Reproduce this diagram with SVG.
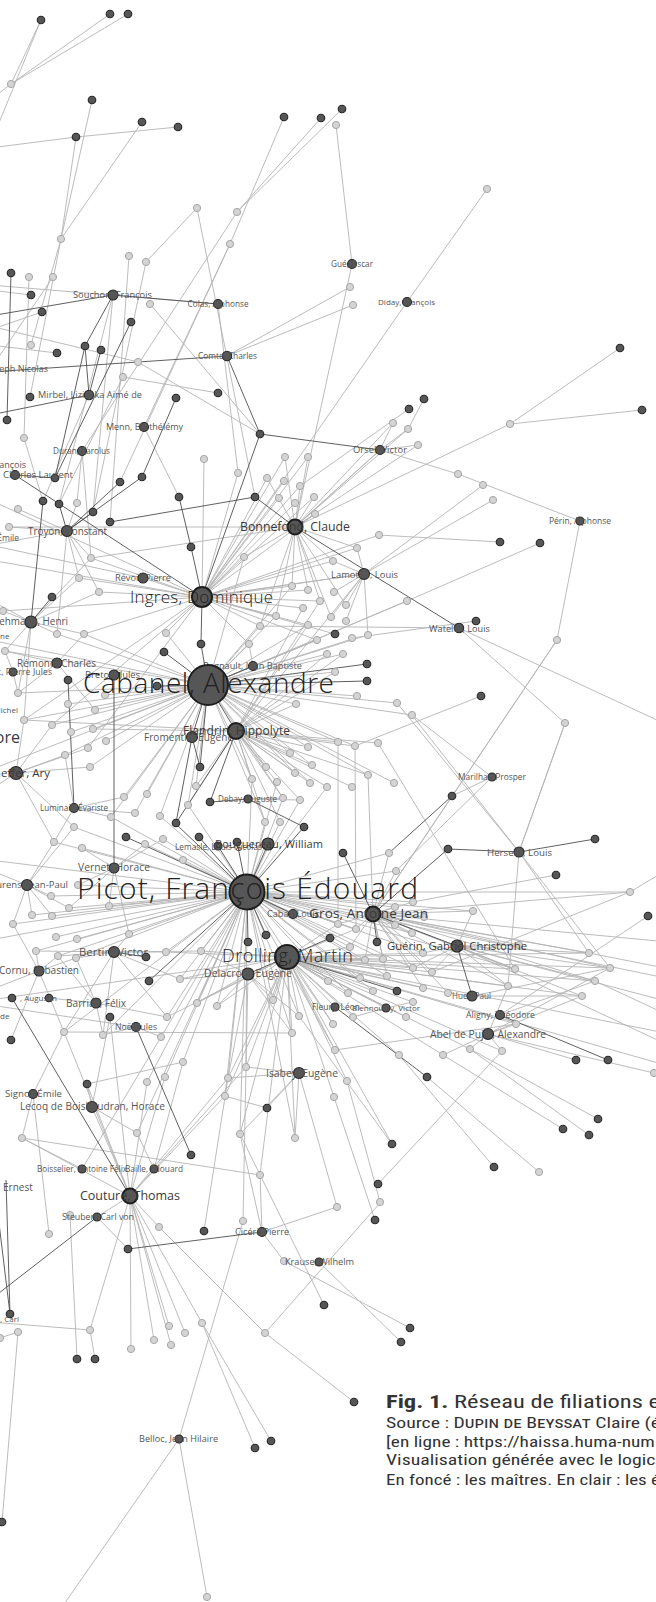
<svg xmlns="http://www.w3.org/2000/svg" width="656" height="1602" viewBox="0 0 656 1602">
<style>
.e{fill:none;stroke:#b4b4b4;stroke-width:0.9}
.k{fill:none;stroke:#4e4e4e;stroke-width:0.9}
.l{fill:#d4d4d4;stroke:#a6a6a6;stroke-width:1}
.d{fill:#565656;stroke:#262626;stroke-width:1.1}
.h{fill:#565656;stroke:#1e1e1e;stroke-width:2}
text{font-family:"Open Sans","Noto Sans","DejaVu Sans",sans-serif;text-anchor:middle;fill:#555}
.t2{fill:#3a3a3a}
.t1{fill:#222;font-weight:300}
.cap{font-family:"Liberation Sans Narrow","Roboto Condensed","Liberation Sans","DejaVu Sans Condensed",sans-serif;text-anchor:start;fill:#333}
</style>
<rect width="656" height="1602" fill="#fff"/>
<g id="connectors">
<path class="e" d="M285 457L202 597L308 457M238 473L202 597L267 478M284 481L202 597L300 486M279 498L202 597L314 497M295 503L202 597L315 514M244 557L202 597L292 586M308 590L202 597L320 601M303 608L202 597L276 616M260 626L202 597L308 625M357 548L202 597L333 561M143 578L202 597L99 592M79 578L202 597L52 725M24 720L202 597L88 748M166 633L202 597L84 634M204 459L202 597L317 640M249 644L202 597L3 611M91 558L202 597L364 574M-10 500L202 597L-10 560"/>
<path class="e" d="M393 423L295 527L408 429M418 445L295 527L380 450M285 457L295 527L308 457M267 478L295 527L300 486M314 497L295 527L315 514M244 557L295 527L292 586M308 590L295 527L320 601M331 617L295 527L276 616M91 558L295 527L9 527M333 561L295 527L357 548M346 605L295 527L260 626M352 264L295 527L510 424"/>
<path class="e" d="M308 747L236 731L290 753M266 767L236 731L312 765M295 773L236 731L277 782M252 779L236 731L310 783M327 787L236 731L283 798M300 800L236 731L296 704M327 654L236 731L343 654M335 672L236 731L338 742M355 746L236 731L378 743M265 822L236 731L280 822M368 775L236 731L352 787M320 601L236 731L303 608M308 625L236 731L196 786M188 805L236 731L93 729M24 720L236 731L364 574"/>
<path class="e" d="M249 644L208 685L317 640M327 654L208 685L343 654M352 639L208 685L368 635M296 704L208 685L357 696M335 672L208 685L397 703M412 715L208 685L308 747M290 753L208 685L266 767M312 765L208 685L295 773M252 779L208 685L310 783M283 798L208 685L265 822M196 786L208 685L188 805M147 794L208 685L124 797M160 816L208 685L135 813M111 817L208 685L106 741M93 729L208 685L71 732M52 725L208 685L24 720M18 693L208 685L68 704M95 710L208 685L105 695M167 634L208 685L84 634M57 634L208 685L5 651M276 616L208 685L260 626M308 625L208 685L244 557M65 755L208 685L90 767M407 601L208 685L338 742M355 746L208 685L368 775M394 783L208 685L-10 640M-10 770L208 685L292 586"/>
<path class="e" d="M389 853L247 892L396 871M395 907L247 892L413 902M424 917L247 892L338 924M356 929L247 892L395 925M412 933L247 892L350 947M365 960L247 892L383 959M423 953L247 892L413 968M387 976L247 892L360 978M328 981L247 892L373 991M348 993L247 892L273 1000M217 1006L247 892L197 1003M167 1017L247 892L180 979M201 951L247 892L166 952M129 934L247 892L109 906M78 885L247 892L69 908M51 896L247 892L52 916M32 915L247 892L13 924M56 937L247 892L77 939M36 951L247 892L58 956M76 958L247 892L145 844M163 839L247 892L183 860M82 848L247 892L54 842M74 827L247 892L630 892M589 953L247 892L515 969M292 1033L247 892L299 1016M246 1067L247 892L228 1078M225 1096L247 892L240 1134M295 1138L247 892L183 1062M165 1077L247 892L147 1082M137 1133L247 892L161 1037M103 1035L247 892L64 1032M265 822L247 892L280 822M283 798L247 892L300 800M327 787L247 892L252 779M277 782L247 892L160 816M188 805L247 892L111 817M335 1050L247 892L333 1024M-10 860L247 892L-10 940M700 985L247 892L473 911"/>
<path class="e" d="M338 924L287 957L356 929M350 947L287 957L365 960M383 959L287 957L423 953M413 968L287 957L432 972M387 976L287 957L360 978M328 981L287 957L423 988M373 991L287 957L348 993M448 993L287 957L413 1002M406 1017L287 957L353 1017M515 969L287 957L589 953M610 968L287 957L595 981M582 996L287 957L508 986M273 1000L287 957L292 1033M299 1016L287 957L246 1067M228 1078L287 957L225 1096M240 1134L287 957L295 1138M260 1175L287 957L333 1024M335 1050L287 957L347 1081M334 1097L287 957L217 1006M197 1003L287 957L167 1017M201 951L287 957L166 952M180 979L287 957L470 1049M443 1055L287 957L399 1055M502 1051L287 957L516 1024M700 1040L287 957L700 1075M-10 1000L287 957L392 1144M335 1007L287 957L386 1008"/>
<path class="e" d="M389 853L373 914L396 871M413 902L373 914L424 917M395 907L373 914L395 925M412 933L373 914L473 911M338 924L373 914L356 929M350 947L373 914L365 960M383 959L373 914L423 953M432 972L373 914L387 976M423 988L373 914L589 953M610 968L373 914L595 981M630 892L373 914L519 945M515 969L373 914L582 996M413 968L373 914L448 993M508 986L373 914L700 945M368 775L373 914L557 640"/>
<path class="e" d="M473 911L457 946L519 945M515 969L457 946L589 953M610 968L457 946L423 953M432 972L457 946L595 981M508 986L457 946L413 968M700 1060L457 946L700 1010M565 723L519 852L412 715M397 703L519 852L508 986M589 953L519 852L610 968M516 1024L488 1034L502 1051M470 1049L488 1034L654 1073M443 1055L488 1034L582 996M610 968L488 1034L508 986M576 1060L488 1034M648 916L500 1015L516 1024M595 981L500 1015M582 996L472 996L610 968M448 993L472 996M413 1002L386 1008L353 1017"/>
<path class="e" d="M273 1000L248 974L217 1006M197 1003L248 974L292 1033M299 1016L248 974L246 1067M228 1078L248 974L201 951M180 979L248 974M166 952L114 952L201 951M129 934L114 952L76 958M58 956L114 952L36 951M180 979L114 952L167 1017M103 1035L114 952L64 1032M36 951L39 971L13 924M58 956L39 971L76 958M64 1032L39 971L-10 990M109 906L114 868L129 934M78 885L114 868L145 844M163 839L114 868L82 848M69 908L114 868M51 896L27 885L32 915M13 924L27 885L54 842M74 827L27 885L69 908M52 916L27 885L-10 870M57 634L31 622L84 634M3 611L31 622L5 651M18 693L31 622L24 720M99 592L31 622L79 578M91 558L31 622L-10 600M77 503L67 531L18 509M9 527L67 531L91 558M79 578L67 531L99 592M57 634L67 531L-10 545M82 451L77 503M82 451L91 558M5 651L57 663L18 693M84 634L57 663L95 710M18 693L13 672L5 651M65 755L16 773L90 767M24 720L16 773L52 725M88 748L16 773L54 842M74 827L16 773L-10 790M111 817L74 808L135 813M124 797L74 808L65 755M54 842L74 808M283 798L248 799L300 800M412 715L492 777L396 871M492 777L452 796M317 640L253 666L249 644M143 578L-10 545"/>
<path class="e" d="M76 958L96 1003L58 956M167 1017L96 1003L103 1035M49 998L96 1003M161 1037L136 1027L103 1035M-10 1005L136 1027M240 1134L299 1073L295 1138M337 1207L299 1073L228 1078M246 1067L299 1073L267 1108M22 1138L33 1094L49 1234M64 1032L33 1094M87 1084L92 1107L137 1133M110 1017L92 1107M161 1037L82 1169L22 1138M183 1062L154 1169L137 1133M87 1084L130 1196L92 1107M64 1032L130 1196L110 1017M246 1067L130 1196L228 1078M225 1096L130 1196L169 1326M185 1333L130 1196L154 1340M171 1345L130 1196L202 1323M131 1349L130 1196L90 1330M159 1227L130 1196L97 1217M22 1138L130 1196L147 1082M165 1077L130 1196M337 1207L262 1232L240 1134M260 1175L262 1232L284 1261"/>
<path class="e" d="M11 84L41 20M11 84L110 14M11 84L128 14M41 20L-8 140M11 84L-10 100M-10 148L76 137L178 127M92 100L61 239L76 137M142 122L61 239L31 345M61 239L30 397M321 118L237 212L342 109M284 117L230 244L120 482M237 212L82 451M197 208L146 262M197 208L255 497M336 125L352 264M487 189L407 302L202 597M129 256L110 522M146 262L93 512M350 287L227 356L353 305M-10 285L218 304L238 473M150 304L260 434M-10 326L138 362L260 434M123 377L218 393M123 377L59 504M29 277L24 438L43 501M53 277L-10 370M42 312L-10 330M113 295L59 504M113 295L93 512M89 395L43 501M144 427L230 244M144 427L179 497M620 348L510 424L642 410M424 399L408 429M409 409L300 486M380 450L458 474L580 521M483 485L364 574L493 500M379 535L500 542M379 535L202 597M540 543L407 601L208 685M364 574L357 548M364 574L333 561M364 574L334 592M364 574L346 605M364 574L368 635M364 574L331 617M364 574L202 597M346 621L364 574M580 521L557 640L373 914M260 626L459 628L565 723L519 852M459 628L700 740M380 450L393 423M380 450L408 429M380 450L418 445M380 450L295 527M481 696L355 746M378 743L515 969M338 742L338 924M355 746L356 929M630 892L700 850M630 892L432 972M556 875L413 902M589 953L700 975M595 981L700 1030"/>
<path class="e" d="M427 1077L539 1172M399 1055L494 1167M443 1055L563 1129M470 1049L589 1135M470 1049L598 1119M502 1051L378 1184M347 1081L380 1202M392 1144L299 1016M335 1050L516 1024M334 1097L375 1220M64 1032L292 1033M87 1084L183 1062M22 1138L260 1175M225 1096L267 1108M97 1217L128 1249M70 1215L77 1359M95 1359L90 1330L-10 1322M243 1221L179 1439L207 1597M179 1439L60 1610M243 1221L246 1067M159 1227L265 1333L354 1402M265 1333L380 1203M255 1448L202 1323L271 1441M284 1261L410 1328M319 1262L401 1342M324 1305L240 1134M2 1522L18 1332M0 1338L18 1332M476 621L352 638M335 634L202 597M11 1040L39 971M204 1231L228 1078M31 295L-10 290M57 353L-10 345"/>
<path class="k" d="M-10 316L113 295L218 304M-10 372L227 356L260 434L380 450M260 434L202 597M11 273L7 420M-10 415L89 395L101 350M89 395L85 346L113 295M85 346L55 478M131 322L55 478M176 398L142 477M179 497L191 547L202 597M110 522L255 497L295 527L459 628M43 501L31 622L52 597M15 475L55 478M15 475L202 597M67 531L142 477M67 531L93 512M67 531L120 482M59 504L67 531M114 675L114 868M68 680L74 808M367 664L208 685L367 681M164 652L208 685L157 686M201 644L208 685L200 767M253 666L208 685L192 737M208 685L236 731L210 802L248 799L304 827M236 731L176 823M192 737L200 767M192 737L176 823M201 644L202 597M199 837L247 892L237 842M176 824L247 892L126 837M266 935L247 892L248 942M304 827L247 892L293 914M268 844L247 892L218 846M343 853L373 914L448 849L519 852L595 839M377 942L373 914L457 946L472 996M330 938L287 957L397 991M248 974L287 957M146 957L114 952M149 981L247 892M335 1007L427 1077M500 1015L608 1060M12 998L130 1196M136 1027L191 1155M128 1249L262 1232M97 1217L-10 1300M10 1314L-5 1190M10 1314L6 1180M452 796L389 853"/>
</g>
<g id="students">
<g id="s1"><circle class="l" cx="11" cy="84" r="3.6"/></g><g id="s2"><circle class="l" cx="61" cy="239" r="3.6"/></g><g id="s3"><circle class="l" cx="237" cy="212" r="3.6"/></g><g id="s4"><circle class="l" cx="230" cy="244" r="3.6"/></g><g id="s5"><circle class="l" cx="197" cy="208" r="3.6"/></g><g id="s6"><circle class="l" cx="129" cy="256" r="3.6"/></g><g id="s7"><circle class="l" cx="146" cy="262" r="3.6"/></g><g id="s8"><circle class="l" cx="336" cy="125" r="3.6"/></g><g id="s9"><circle class="l" cx="487" cy="189" r="3.6"/></g>
<g id="s10"><circle class="l" cx="29" cy="277" r="3.6"/></g><g id="s11"><circle class="l" cx="53" cy="277" r="3.6"/></g><g id="s12"><circle class="l" cx="150" cy="304" r="3.6"/></g><g id="s13"><circle class="l" cx="31" cy="345" r="3.6"/></g><g id="s14"><circle class="l" cx="138" cy="362" r="3.6"/></g><g id="s15"><circle class="l" cx="123" cy="377" r="3.6"/></g><g id="s16"><circle class="l" cx="24" cy="438" r="3.6"/></g>
<g id="s17"><circle class="l" cx="350" cy="287" r="3.6"/></g><g id="s18"><circle class="l" cx="353" cy="305" r="3.6"/></g><g id="s19"><circle class="l" cx="510" cy="424" r="3.6"/></g><g id="s20"><circle class="l" cx="393" cy="423" r="3.6"/></g><g id="s21"><circle class="l" cx="408" cy="429" r="3.6"/></g><g id="s22"><circle class="l" cx="418" cy="445" r="3.6"/></g>
<g id="s23"><circle class="l" cx="18" cy="509" r="3.6"/></g><g id="s24"><circle class="l" cx="9" cy="527" r="3.6"/></g><g id="s25"><circle class="l" cx="204" cy="459" r="3.6"/></g><g id="s26"><circle class="l" cx="285" cy="457" r="3.6"/></g><g id="s27"><circle class="l" cx="308" cy="457" r="3.6"/></g><g id="s28"><circle class="l" cx="238" cy="473" r="3.6"/></g><g id="s29"><circle class="l" cx="267" cy="478" r="3.6"/></g><g id="s30"><circle class="l" cx="284" cy="481" r="3.6"/></g><g id="s31"><circle class="l" cx="300" cy="486" r="3.6"/></g><g id="s32"><circle class="l" cx="279" cy="498" r="3.6"/></g><g id="s33"><circle class="l" cx="314" cy="497" r="3.6"/></g><g id="s34"><circle class="l" cx="295" cy="503" r="3.6"/></g><g id="s35"><circle class="l" cx="315" cy="514" r="3.6"/></g><g id="s36"><circle class="l" cx="77" cy="503" r="3.6"/></g><g id="s37"><circle class="l" cx="244" cy="557" r="3.6"/></g><g id="s38"><circle class="l" cx="91" cy="558" r="3.6"/></g><g id="s39"><circle class="l" cx="79" cy="578" r="3.6"/></g><g id="s40"><circle class="l" cx="99" cy="592" r="3.6"/></g><g id="s41"><circle class="l" cx="292" cy="586" r="3.6"/></g><g id="s42"><circle class="l" cx="308" cy="590" r="3.6"/></g><g id="s43"><circle class="l" cx="320" cy="601" r="3.6"/></g><g id="s44"><circle class="l" cx="303" cy="608" r="3.6"/></g><g id="s45"><circle class="l" cx="276" cy="616" r="3.6"/></g><g id="s46"><circle class="l" cx="260" cy="626" r="3.6"/></g><g id="s47"><circle class="l" cx="308" cy="625" r="3.6"/></g><g id="s48"><circle class="l" cx="3" cy="611" r="3.6"/></g><g id="s49"><circle class="l" cx="57" cy="634" r="3.6"/></g><g id="s50"><circle class="l" cx="84" cy="634" r="3.6"/></g><g id="s51"><circle class="l" cx="166" cy="633" r="3.6"/></g>
<g id="s52"><circle class="l" cx="458" cy="474" r="3.6"/></g><g id="s53"><circle class="l" cx="483" cy="485" r="3.6"/></g><g id="s54"><circle class="l" cx="493" cy="500" r="3.6"/></g><g id="s55"><circle class="l" cx="379" cy="535" r="3.6"/></g><g id="s56"><circle class="l" cx="357" cy="548" r="3.6"/></g><g id="s57"><circle class="l" cx="333" cy="561" r="3.6"/></g><g id="s58"><circle class="l" cx="334" cy="592" r="3.6"/></g><g id="s59"><circle class="l" cx="346" cy="605" r="3.6"/></g><g id="s60"><circle class="l" cx="407" cy="601" r="3.6"/></g><g id="s61"><circle class="l" cx="331" cy="617" r="3.6"/></g><g id="s62"><circle class="l" cx="346" cy="621" r="3.6"/></g><g id="s63"><circle class="l" cx="368" cy="635" r="3.6"/></g><g id="s64"><circle class="l" cx="352" cy="638" r="3.6"/></g><g id="s65"><circle class="l" cx="557" cy="640" r="3.6"/></g>
<g id="s66"><circle class="l" cx="5" cy="651" r="3.6"/></g><g id="s67"><circle class="l" cx="249" cy="644" r="3.6"/></g><g id="s68"><circle class="l" cx="317" cy="640" r="3.6"/></g><g id="s69"><circle class="l" cx="327" cy="654" r="3.6"/></g><g id="s70"><circle class="l" cx="18" cy="693" r="3.6"/></g><g id="s71"><circle class="l" cx="68" cy="704" r="3.6"/></g><g id="s72"><circle class="l" cx="95" cy="710" r="3.6"/></g><g id="s73"><circle class="l" cx="105" cy="695" r="3.6"/></g><g id="s74"><circle class="l" cx="24" cy="720" r="3.6"/></g><g id="s75"><circle class="l" cx="52" cy="725" r="3.6"/></g><g id="s76"><circle class="l" cx="71" cy="732" r="3.6"/></g><g id="s77"><circle class="l" cx="93" cy="729" r="3.6"/></g><g id="s78"><circle class="l" cx="106" cy="741" r="3.6"/></g><g id="s79"><circle class="l" cx="88" cy="748" r="3.6"/></g><g id="s80"><circle class="l" cx="65" cy="755" r="3.6"/></g><g id="s81"><circle class="l" cx="90" cy="767" r="3.6"/></g><g id="s82"><circle class="l" cx="296" cy="704" r="3.6"/></g><g id="s83"><circle class="l" cx="308" cy="747" r="3.6"/></g><g id="s84"><circle class="l" cx="290" cy="753" r="3.6"/></g><g id="s85"><circle class="l" cx="266" cy="767" r="3.6"/></g><g id="s86"><circle class="l" cx="312" cy="765" r="3.6"/></g><g id="s87"><circle class="l" cx="295" cy="773" r="3.6"/></g><g id="s88"><circle class="l" cx="277" cy="782" r="3.6"/></g><g id="s89"><circle class="l" cx="252" cy="779" r="3.6"/></g><g id="s90"><circle class="l" cx="310" cy="783" r="3.6"/></g><g id="s91"><circle class="l" cx="327" cy="787" r="3.6"/></g><g id="s92"><circle class="l" cx="196" cy="786" r="3.6"/></g><g id="s93"><circle class="l" cx="147" cy="794" r="3.6"/></g><g id="s94"><circle class="l" cx="124" cy="797" r="3.6"/></g><g id="s95"><circle class="l" cx="188" cy="805" r="3.6"/></g><g id="s96"><circle class="l" cx="160" cy="816" r="3.6"/></g><g id="s97"><circle class="l" cx="135" cy="813" r="3.6"/></g><g id="s98"><circle class="l" cx="111" cy="817" r="3.6"/></g><g id="s99"><circle class="l" cx="283" cy="798" r="3.6"/></g><g id="s100"><circle class="l" cx="300" cy="800" r="3.6"/></g><g id="s101"><circle class="l" cx="265" cy="822" r="3.6"/></g><g id="s102"><circle class="l" cx="280" cy="822" r="3.6"/></g>
<g id="s103"><circle class="l" cx="343" cy="654" r="3.6"/></g><g id="s104"><circle class="l" cx="335" cy="672" r="3.6"/></g><g id="s105"><circle class="l" cx="357" cy="696" r="3.6"/></g><g id="s106"><circle class="l" cx="397" cy="703" r="3.6"/></g><g id="s107"><circle class="l" cx="412" cy="715" r="3.6"/></g><g id="s108"><circle class="l" cx="565" cy="723" r="3.6"/></g><g id="s109"><circle class="l" cx="338" cy="742" r="3.6"/></g><g id="s110"><circle class="l" cx="355" cy="746" r="3.6"/></g><g id="s111"><circle class="l" cx="378" cy="743" r="3.6"/></g><g id="s112"><circle class="l" cx="368" cy="775" r="3.6"/></g><g id="s113"><circle class="l" cx="352" cy="787" r="3.6"/></g><g id="s114"><circle class="l" cx="394" cy="783" r="3.6"/></g>
<g id="s115"><circle class="l" cx="74" cy="827" r="3.6"/></g><g id="s116"><circle class="l" cx="54" cy="842" r="3.6"/></g><g id="s117"><circle class="l" cx="82" cy="848" r="3.6"/></g><g id="s118"><circle class="l" cx="145" cy="844" r="3.6"/></g><g id="s119"><circle class="l" cx="163" cy="839" r="3.6"/></g><g id="s120"><circle class="l" cx="183" cy="860" r="3.6"/></g><g id="s121"><circle class="l" cx="51" cy="896" r="3.6"/></g><g id="s122"><circle class="l" cx="32" cy="915" r="3.6"/></g><g id="s123"><circle class="l" cx="13" cy="924" r="3.6"/></g><g id="s124"><circle class="l" cx="69" cy="908" r="3.6"/></g><g id="s125"><circle class="l" cx="52" cy="916" r="3.6"/></g><g id="s126"><circle class="l" cx="109" cy="906" r="3.6"/></g><g id="s127"><circle class="l" cx="78" cy="885" r="3.6"/></g><g id="s128"><circle class="l" cx="56" cy="937" r="3.6"/></g><g id="s129"><circle class="l" cx="77" cy="939" r="3.6"/></g><g id="s130"><circle class="l" cx="129" cy="934" r="3.6"/></g><g id="s131"><circle class="l" cx="36" cy="951" r="3.6"/></g><g id="s132"><circle class="l" cx="58" cy="956" r="3.6"/></g><g id="s133"><circle class="l" cx="76" cy="958" r="3.6"/></g><g id="s134"><circle class="l" cx="166" cy="952" r="3.6"/></g><g id="s135"><circle class="l" cx="201" cy="951" r="3.6"/></g><g id="s136"><circle class="l" cx="180" cy="979" r="3.6"/></g><g id="s137"><circle class="l" cx="273" cy="1000" r="3.6"/></g><g id="s138"><circle class="l" cx="217" cy="1006" r="3.6"/></g><g id="s139"><circle class="l" cx="197" cy="1003" r="3.6"/></g><g id="s140"><circle class="l" cx="167" cy="1017" r="3.6"/></g>
<g id="s141"><circle class="l" cx="389" cy="853" r="3.6"/></g><g id="s142"><circle class="l" cx="396" cy="871" r="3.6"/></g><g id="s143"><circle class="l" cx="630" cy="892" r="3.6"/></g><g id="s144"><circle class="l" cx="473" cy="911" r="3.6"/></g><g id="s145"><circle class="l" cx="413" cy="902" r="3.6"/></g><g id="s146"><circle class="l" cx="424" cy="917" r="3.6"/></g><g id="s147"><circle class="l" cx="395" cy="907" r="3.6"/></g><g id="s148"><circle class="l" cx="338" cy="924" r="3.6"/></g><g id="s149"><circle class="l" cx="356" cy="929" r="3.6"/></g><g id="s150"><circle class="l" cx="395" cy="925" r="3.6"/></g><g id="s151"><circle class="l" cx="412" cy="933" r="3.6"/></g><g id="s152"><circle class="l" cx="350" cy="947" r="3.6"/></g><g id="s153"><circle class="l" cx="365" cy="960" r="3.6"/></g><g id="s154"><circle class="l" cx="383" cy="959" r="3.6"/></g><g id="s155"><circle class="l" cx="423" cy="953" r="3.6"/></g><g id="s156"><circle class="l" cx="413" cy="968" r="3.6"/></g><g id="s157"><circle class="l" cx="432" cy="972" r="3.6"/></g><g id="s158"><circle class="l" cx="387" cy="976" r="3.6"/></g><g id="s159"><circle class="l" cx="360" cy="978" r="3.6"/></g><g id="s160"><circle class="l" cx="328" cy="981" r="3.6"/></g><g id="s161"><circle class="l" cx="515" cy="969" r="3.6"/></g><g id="s162"><circle class="l" cx="589" cy="953" r="3.6"/></g><g id="s163"><circle class="l" cx="610" cy="968" r="3.6"/></g><g id="s164"><circle class="l" cx="595" cy="981" r="3.6"/></g><g id="s165"><circle class="l" cx="582" cy="996" r="3.6"/></g><g id="s166"><circle class="l" cx="508" cy="986" r="3.6"/></g><g id="s167"><circle class="l" cx="423" cy="988" r="3.6"/></g><g id="s168"><circle class="l" cx="373" cy="991" r="3.6"/></g><g id="s169"><circle class="l" cx="348" cy="993" r="3.6"/></g><g id="s170"><circle class="l" cx="448" cy="993" r="3.6"/></g><g id="s171"><circle class="l" cx="519" cy="945" r="3.6"/></g><g id="s172"><circle class="l" cx="413" cy="1002" r="3.6"/></g><g id="s173"><circle class="l" cx="406" cy="1017" r="3.6"/></g><g id="s174"><circle class="l" cx="353" cy="1017" r="3.6"/></g>
<g id="s175"><circle class="l" cx="64" cy="1032" r="3.6"/></g><g id="s176"><circle class="l" cx="103" cy="1035" r="3.6"/></g><g id="s177"><circle class="l" cx="161" cy="1037" r="3.6"/></g><g id="s178"><circle class="l" cx="299" cy="1016" r="3.6"/></g><g id="s179"><circle class="l" cx="292" cy="1033" r="3.6"/></g><g id="s180"><circle class="l" cx="183" cy="1062" r="3.6"/></g><g id="s181"><circle class="l" cx="165" cy="1077" r="3.6"/></g><g id="s182"><circle class="l" cx="147" cy="1082" r="3.6"/></g><g id="s183"><circle class="l" cx="228" cy="1078" r="3.6"/></g><g id="s184"><circle class="l" cx="246" cy="1067" r="3.6"/></g><g id="s185"><circle class="l" cx="225" cy="1096" r="3.6"/></g><g id="s186"><circle class="l" cx="22" cy="1138" r="3.6"/></g><g id="s187"><circle class="l" cx="137" cy="1133" r="3.6"/></g><g id="s188"><circle class="l" cx="240" cy="1134" r="3.6"/></g><g id="s189"><circle class="l" cx="295" cy="1138" r="3.6"/></g><g id="s190"><circle class="l" cx="260" cy="1175" r="3.6"/></g>
<g id="s191"><circle class="l" cx="333" cy="1024" r="3.6"/></g><g id="s192"><circle class="l" cx="516" cy="1024" r="3.6"/></g><g id="s193"><circle class="l" cx="335" cy="1050" r="3.6"/></g><g id="s194"><circle class="l" cx="399" cy="1055" r="3.6"/></g><g id="s195"><circle class="l" cx="443" cy="1055" r="3.6"/></g><g id="s196"><circle class="l" cx="470" cy="1049" r="3.6"/></g><g id="s197"><circle class="l" cx="502" cy="1051" r="3.6"/></g><g id="s198"><circle class="l" cx="654" cy="1073" r="3.6"/></g><g id="s199"><circle class="l" cx="347" cy="1081" r="3.6"/></g><g id="s200"><circle class="l" cx="334" cy="1097" r="3.6"/></g><g id="s201"><circle class="l" cx="539" cy="1172" r="3.6"/></g><g id="s202"><circle class="l" cx="380" cy="1202" r="3.6"/></g><g id="s203"><circle class="l" cx="337" cy="1207" r="3.6"/></g>
<g id="s204"><circle class="l" cx="49" cy="1234" r="3.6"/></g><g id="s205"><circle class="l" cx="70" cy="1215" r="3.6"/></g><g id="s206"><circle class="l" cx="159" cy="1227" r="3.6"/></g><g id="s207"><circle class="l" cx="243" cy="1221" r="3.6"/></g><g id="s208"><circle class="l" cx="284" cy="1261" r="3.6"/></g><g id="s209"><circle class="l" cx="18" cy="1332" r="3.6"/></g><g id="s210"><circle class="l" cx="0" cy="1338" r="3.6"/></g><g id="s211"><circle class="l" cx="90" cy="1330" r="3.6"/></g><g id="s212"><circle class="l" cx="169" cy="1326" r="3.6"/></g><g id="s213"><circle class="l" cx="185" cy="1333" r="3.6"/></g><g id="s214"><circle class="l" cx="154" cy="1340" r="3.6"/></g><g id="s215"><circle class="l" cx="171" cy="1345" r="3.6"/></g><g id="s216"><circle class="l" cx="131" cy="1349" r="3.6"/></g><g id="s217"><circle class="l" cx="202" cy="1323" r="3.6"/></g><g id="s218"><circle class="l" cx="265" cy="1333" r="3.6"/></g><g id="s219"><circle class="l" cx="207" cy="1597" r="3.6"/></g>
</g>
<g id="masters">
<g id="d1"><circle class="d" cx="41" cy="20" r="3.8"/></g><g id="d2"><circle class="d" cx="110" cy="14" r="3.8"/></g><g id="d3"><circle class="d" cx="128" cy="14" r="3.8"/></g><g id="d4"><circle class="d" cx="92" cy="100" r="3.8"/></g><g id="d5"><circle class="d" cx="142" cy="122" r="3.8"/></g><g id="d6"><circle class="d" cx="178" cy="127" r="3.8"/></g><g id="d7"><circle class="d" cx="76" cy="137" r="3.8"/></g><g id="d8"><circle class="d" cx="284" cy="117" r="3.8"/></g><g id="d9"><circle class="d" cx="321" cy="118" r="3.8"/></g><g id="d10"><circle class="d" cx="342" cy="109" r="3.8"/></g>
<g id="d11"><circle class="d" cx="11" cy="273" r="3.8"/></g><g id="d12"><circle class="d" cx="31" cy="295" r="3.8"/></g><g id="d13"><circle class="d" cx="42" cy="312" r="3.8"/></g><g id="d14"><circle class="d" cx="131" cy="322" r="3.8"/></g><g id="d15"><circle class="d" cx="57" cy="353" r="3.8"/></g><g id="d16"><circle class="d" cx="85" cy="346" r="3.8"/></g><g id="d17"><circle class="d" cx="101" cy="350" r="3.8"/></g><g id="d18"><circle class="d" cx="218" cy="393" r="3.8"/></g><g id="d19"><circle class="d" cx="30" cy="397" r="3.8"/></g><g id="d20"><circle class="d" cx="176" cy="398" r="3.8"/></g><g id="d21"><circle class="d" cx="7" cy="420" r="3.8"/></g><g id="d22"><circle class="d" cx="260" cy="434" r="3.8"/></g>
<g id="d23"><circle class="d" cx="620" cy="348" r="3.8"/></g><g id="d24"><circle class="d" cx="642" cy="410" r="3.8"/></g><g id="d25"><circle class="d" cx="409" cy="409" r="3.8"/></g><g id="d26"><circle class="d" cx="424" cy="399" r="3.8"/></g>
<g id="d27"><circle class="d" cx="55" cy="478" r="3.8"/></g><g id="d28"><circle class="d" cx="120" cy="482" r="3.8"/></g><g id="d29"><circle class="d" cx="142" cy="477" r="3.8"/></g><g id="d30"><circle class="d" cx="179" cy="497" r="3.8"/></g><g id="d31"><circle class="d" cx="255" cy="497" r="3.8"/></g><g id="d32"><circle class="d" cx="43" cy="501" r="3.8"/></g><g id="d33"><circle class="d" cx="59" cy="504" r="3.8"/></g><g id="d34"><circle class="d" cx="93" cy="512" r="3.8"/></g><g id="d35"><circle class="d" cx="110" cy="522" r="3.8"/></g><g id="d36"><circle class="d" cx="191" cy="547" r="3.8"/></g><g id="d37"><circle class="d" cx="52" cy="597" r="3.8"/></g>
<g id="d38"><circle class="d" cx="500" cy="542" r="3.8"/></g><g id="d39"><circle class="d" cx="540" cy="543" r="3.8"/></g><g id="d40"><circle class="d" cx="476" cy="621" r="3.8"/></g><g id="d41"><circle class="d" cx="335" cy="634" r="3.8"/></g>
<g id="d42"><circle class="d" cx="201" cy="644" r="3.8"/></g><g id="d43"><circle class="d" cx="164" cy="652" r="3.8"/></g><g id="d44"><circle class="d" cx="68" cy="680" r="3.8"/></g><g id="d45"><circle class="d" cx="157" cy="686" r="3.8"/></g><g id="d46"><circle class="d" cx="200" cy="767" r="3.8"/></g><g id="d47"><circle class="d" cx="210" cy="802" r="3.8"/></g><g id="d48"><circle class="d" cx="176" cy="823" r="3.8"/></g><g id="d49"><circle class="d" cx="304" cy="827" r="3.8"/></g>
<g id="d50"><circle class="d" cx="367" cy="664" r="3.8"/></g><g id="d51"><circle class="d" cx="367" cy="681" r="3.8"/></g><g id="d52"><circle class="d" cx="481" cy="696" r="3.8"/></g><g id="d53"><circle class="d" cx="452" cy="796" r="3.8"/></g>
<g id="d54"><circle class="d" cx="126" cy="837" r="3.8"/></g><g id="d55"><circle class="d" cx="199" cy="837" r="3.8"/></g><g id="d56"><circle class="d" cx="237" cy="842" r="3.8"/></g><g id="d57"><circle class="d" cx="146" cy="957" r="3.8"/></g><g id="d58"><circle class="d" cx="149" cy="981" r="3.8"/></g><g id="d59"><circle class="d" cx="266" cy="935" r="3.8"/></g><g id="d60"><circle class="d" cx="248" cy="942" r="3.8"/></g><g id="d62"><circle class="d" cx="49" cy="998" r="3.8"/></g><g id="d63"><circle class="d" cx="110" cy="1017" r="3.8"/></g>
<g id="d64"><circle class="d" cx="343" cy="853" r="3.8"/></g><g id="d65"><circle class="d" cx="448" cy="849" r="3.8"/></g><g id="d66"><circle class="d" cx="595" cy="839" r="3.8"/></g><g id="d67"><circle class="d" cx="556" cy="875" r="3.8"/></g><g id="d68"><circle class="d" cx="648" cy="916" r="3.8"/></g><g id="d69"><circle class="d" cx="330" cy="938" r="3.8"/></g><g id="d70"><circle class="d" cx="377" cy="942" r="3.8"/></g><g id="d71"><circle class="d" cx="397" cy="991" r="3.8"/></g>
<g id="d72"><circle class="d" cx="11" cy="1040" r="3.8"/></g><g id="d73"><circle class="d" cx="87" cy="1084" r="3.8"/></g><g id="d74"><circle class="d" cx="267" cy="1108" r="3.8"/></g><g id="d75"><circle class="d" cx="191" cy="1155" r="3.8"/></g>
<g id="d76"><circle class="d" cx="576" cy="1060" r="3.8"/></g><g id="d77"><circle class="d" cx="608" cy="1060" r="3.8"/></g><g id="d78"><circle class="d" cx="427" cy="1077" r="3.8"/></g><g id="d79"><circle class="d" cx="598" cy="1119" r="3.8"/></g><g id="d80"><circle class="d" cx="563" cy="1129" r="3.8"/></g><g id="d81"><circle class="d" cx="589" cy="1135" r="3.8"/></g><g id="d82"><circle class="d" cx="392" cy="1144" r="3.8"/></g><g id="d83"><circle class="d" cx="494" cy="1167" r="3.8"/></g><g id="d84"><circle class="d" cx="378" cy="1184" r="3.8"/></g>
<g id="d85"><circle class="d" cx="375" cy="1220" r="3.8"/></g><g id="d86"><circle class="d" cx="204" cy="1231" r="3.8"/></g><g id="d87"><circle class="d" cx="128" cy="1249" r="3.8"/></g><g id="d88"><circle class="d" cx="324" cy="1305" r="3.8"/></g><g id="d89"><circle class="d" cx="410" cy="1328" r="3.8"/></g><g id="d90"><circle class="d" cx="401" cy="1342" r="3.8"/></g><g id="d92"><circle class="d" cx="77" cy="1359" r="3.8"/></g><g id="d93"><circle class="d" cx="95" cy="1359" r="3.8"/></g><g id="d94"><circle class="d" cx="255" cy="1448" r="3.8"/></g><g id="d95"><circle class="d" cx="271" cy="1441" r="3.8"/></g><g id="d96"><circle class="d" cx="354" cy="1402" r="3.8"/></g><g id="d97"><circle class="d" cx="2" cy="1522" r="3.8"/></g>
</g>
<g id="partial-labels">
<text x="26" y="468" font-size="9" style="text-anchor:end">François</text>
<text x="48" y="372" font-size="9" style="text-anchor:end">Joseph Nicolas</text>
<text x="19" y="541" font-size="8.5" style="text-anchor:end">Émile</text>
<text x="0" y="639" font-size="8" style="text-anchor:start">ne</text>
<text x="18" y="713" font-size="8" style="text-anchor:end">Michel</text>
<text x="20" y="743" font-size="16" class="t2" style="text-anchor:end">ore</text>
<text x="0" y="1019" font-size="8" style="text-anchor:start">de</text>
<text x="3" y="1191" font-size="10" style="text-anchor:start">Ernest</text>
</g>
<g id="n-augustin"><circle class="d" cx="12" cy="998" r="3.8"/><text x="57" y="1001" font-size="8" style="text-anchor:end">, Augustin</text></g>
<g id="n-carl"><circle class="d" cx="10" cy="1314" r="3.8"/><text x="0" y="1322" font-size="8" style="text-anchor:start">, Carl</text></g>
<g id="n-gue"><circle class="d" cx="352" cy="264" r="4.5"/><text x="352" y="267" font-size="8.2" textLength="42">Gué, Oscar</text></g>
<g id="n-diday"><circle class="d" cx="407" cy="302" r="4.5"/><text x="406.5" y="305" font-size="8" textLength="57">Diday, François</text></g>
<g id="n-souchon"><circle class="d" cx="113" cy="295" r="5"/><text x="112.5" y="298" font-size="9.3" textLength="79">Souchon, François</text></g>
<g id="n-colas"><circle class="d" cx="218" cy="304" r="4.5"/><text x="218" y="307" font-size="8.2" textLength="61">Colas, Alphonse</text></g>
<g id="n-comte"><circle class="d" cx="227" cy="356" r="4.7"/><text x="227.5" y="359" font-size="8.3" textLength="59">Comte, Charles</text></g>
<g id="n-mirbel"><circle class="d" cx="89" cy="395" r="4.7"/><text x="90" y="398" font-size="9.2" textLength="104">Mirbel, Lizinska Aimé de</text></g>
<g id="n-menn"><circle class="d" cx="144" cy="427" r="4.5"/><text x="144.5" y="430" font-size="9" textLength="77">Menn, Barthélémy</text></g>
<g id="n-duran"><circle class="d" cx="82" cy="451" r="4.5"/><text x="81.5" y="454" font-size="8.2" textLength="57">Duran, Carolus</text></g>
<g id="n-marechal"><circle class="d" cx="15" cy="475" r="4.5"/><text x="15" y="478" font-size="9.5" textLength="116">Maréchal, Charles Laurent</text></g>
<g id="n-orsel"><circle class="d" cx="380" cy="450" r="4.5"/><text x="380" y="453" font-size="9.4" textLength="54">Orsel, Victor</text></g>
<g id="n-perin"><circle class="d" cx="580" cy="521" r="4"/><text x="580" y="524" font-size="8.5" textLength="62">Périn, Alphonse</text></g>
<g id="n-troyon"><circle class="d" cx="67" cy="531" r="5.5"/><text x="67.5" y="535" font-size="9.9" textLength="79">Troyon, Constant</text></g>
<g id="n-revoil"><circle class="d" cx="143" cy="578" r="5"/><text x="143" y="581" font-size="9.2" textLength="56">Révoil, Pierre</text></g>
<g id="n-lamothe"><circle class="d" cx="364" cy="574" r="5.5"/><text x="364.5" y="578" font-size="9.4" textLength="67">Lamothe, Louis</text></g>
<g id="n-wateler"><circle class="d" cx="459" cy="628" r="4.7"/><text x="459.5" y="632" font-size="9.2" textLength="61">Wateler, Louis</text></g>
<g id="n-lehmann"><circle class="d" cx="31" cy="622" r="6"/><text x="31" y="625" font-size="9.9" textLength="74">Lehmann, Henri</text></g>
<g id="n-remond"><circle class="d" cx="57" cy="663" r="5"/><text x="56.5" y="667" font-size="9.9" textLength="79">Rémond, Charles</text></g>
<g id="n-jollivet"><circle class="d" cx="13" cy="672" r="4"/><text x="13" y="675" font-size="8.5" textLength="78">Jollivet, Pierre Jules</text></g>
<g id="n-breton"><circle class="d" cx="114" cy="675" r="5"/><text x="112.5" y="678" font-size="9.4" textLength="55">Breton, Jules</text></g>
<g id="n-regnault"><circle class="d" cx="253" cy="666" r="4.5"/><text x="252.5" y="669" font-size="9.2" textLength="99">Regnault, Jean Baptiste</text></g>
<g id="n-scheffer"><circle class="d" cx="16" cy="773" r="6.5"/><text x="16" y="777" font-size="11.5" textLength="68" class="t2">Scheffer, Ary</text></g>
<g id="n-luminais"><circle class="d" cx="74" cy="808" r="4.5"/><text x="74" y="811" font-size="8.1" textLength="68">Luminais, Évariste</text></g>
<g id="n-debay"><circle class="d" cx="248" cy="799" r="4"/><text x="247.5" y="802" font-size="8.1" textLength="59">Debay, Auguste</text></g>
<g id="n-marilhat"><circle class="d" cx="492" cy="777" r="4"/><text x="492" y="780" font-size="8.4" textLength="68">Marilhat, Prosper</text></g>
<g id="n-lemasle"><circle class="d" cx="218" cy="846" r="4"/><text x="218.5" y="850" font-size="8.3" textLength="87">Lemasle, Louis Nicolas</text></g>
<g id="n-vernet"><circle class="d" cx="114" cy="868" r="5"/><text x="114" y="871" font-size="10.3" textLength="72">Vernet, Horace</text></g>
<g id="n-laurens"><circle class="d" cx="27" cy="885" r="5.5"/><text x="27" y="888" font-size="9.5" textLength="82">Laurens, Jean-Paul</text></g>
<g id="n-hersent"><circle class="d" cx="519" cy="852" r="5"/><text x="519.5" y="856" font-size="9.7" textLength="65">Hersent, Louis</text></g>
<g id="n-cabat"><circle class="d" cx="293" cy="914" r="4.5"/><text x="293" y="917" font-size="9.1" textLength="52">Cabat, Louis</text></g>
<g id="n-bertin"><circle class="d" cx="114" cy="952" r="5.5"/><text x="113.5" y="956" font-size="11.3" textLength="69">Bertin, Victor</text></g>
<g id="n-cornu"><circle class="d" cx="39" cy="971" r="5"/><text x="39" y="974" font-size="10.1" textLength="80">Cornu, Sébastien</text></g>
<g id="n-delacroix"><circle class="d" cx="248" cy="974" r="6"/><text x="248" y="977" font-size="10.6" textLength="88">Delacroix, Eugène</text></g>
<g id="n-barrias"><circle class="d" cx="96" cy="1003" r="5"/><text x="96" y="1007" font-size="10" textLength="60">Barrias, Félix</text></g>
<g id="n-fleury"><circle class="d" cx="335" cy="1007" r="4"/><text x="336" y="1010" font-size="8.5" textLength="48">Fleury, Léon</text></g>
<g id="n-biennourry"><circle class="d" cx="386" cy="1008" r="4"/><text x="386" y="1011" font-size="8" textLength="68">Biennourry, Victor</text></g>
<g id="n-huet"><circle class="d" cx="472" cy="996" r="5"/><text x="471.5" y="999" font-size="8.1" textLength="39">Huet, Paul</text></g>
<g id="n-aligny"><circle class="d" cx="500" cy="1015" r="4.5"/><text x="500.5" y="1018" font-size="8.8" textLength="69">Aligny, Théodore</text></g>
<g id="n-abel"><circle class="d" cx="488" cy="1034" r="5.5"/><text x="488" y="1038" font-size="10.3" textLength="116">Abel de Pujol, Alexandre</text></g>
<g id="n-noel"><circle class="d" cx="136" cy="1027" r="4.5"/><text x="136" y="1030" font-size="8.6" textLength="42">Noël, Jules</text></g>
<g id="n-isabey"><circle class="d" cx="299" cy="1073" r="5.5"/><text x="302" y="1077" font-size="10.4" textLength="72">Isabey, Eugène</text></g>
<g id="n-signol"><circle class="d" cx="33" cy="1094" r="4.5"/><text x="33.5" y="1097" font-size="9.6" textLength="57">Signol, Émile</text></g>
<g id="n-lecoq"><circle class="d" cx="92" cy="1107" r="5.5"/><text x="92.5" y="1110" font-size="10.1" textLength="145">Lecoq de Boisbaudran, Horace</text></g>
<g id="n-boisselier"><circle class="d" cx="82" cy="1169" r="4"/><text x="82" y="1172" font-size="8.1" textLength="90">Boisselier, Antoine Félix</text></g>
<g id="n-baille"><circle class="d" cx="154" cy="1169" r="4"/><text x="154" y="1172" font-size="8.3" textLength="58">Baille, Édouard</text></g>
<g id="n-steuben"><circle class="d" cx="97" cy="1217" r="4"/><text x="98" y="1220" font-size="8.8" textLength="72">Steuben, Carl von</text></g>
<g id="n-ciceri"><circle class="d" cx="262" cy="1232" r="4.5"/><text x="262" y="1235" font-size="9.1" textLength="54">Cicéri, Pierre</text></g>
<g id="n-krause"><circle class="d" cx="319" cy="1262" r="4"/><text x="319.5" y="1265" font-size="9.2" textLength="69">Krause, Wilhelm</text></g>
<g id="n-belloc"><circle class="d" cx="179" cy="1439" r="4"/><text x="178.5" y="1442" font-size="9.1" textLength="79">Belloc, Jean Hilaire</text></g>
<g id="n-fromentin"><circle class="d" cx="192" cy="737" r="5.5"/><text x="188.5" y="741" font-size="10" textLength="89">Fromentin, Eugène</text></g>
<g id="n-bouguereau"><circle class="d" cx="268" cy="844" r="6"/><text x="269" y="848" font-size="11" textLength="108" class="t2">Bouguereau, William</text></g>
<g id="n-guerin"><circle class="d" cx="457" cy="946" r="6"/><text x="457" y="950" font-size="11.3" textLength="140" class="t2">Guérin, Gabriel Christophe</text></g>
<g id="n-couture"><circle class="h" cx="130" cy="1196" r="7.5"/><text x="130" y="1200" font-size="12.5" textLength="100" class="t2">Couture, Thomas</text></g>
<g id="n-bonnefond"><circle class="h" cx="295" cy="527" r="7.5"/><text x="295" y="531" font-size="12.3" textLength="110" class="t2">Bonnefond, Claude</text></g>
<g id="n-flandrin"><circle class="h" cx="236" cy="731" r="8"/><text x="236.5" y="735" font-size="12" textLength="107" class="t2">Flandrin, Hippolyte</text></g>
<g id="n-gros"><circle class="h" cx="373" cy="914" r="7.5"/><text x="368.5" y="918" font-size="13.5" textLength="119" class="t2">Gros, Antoine Jean</text></g>
<g id="n-ingres"><circle class="h" cx="202" cy="597" r="10"/><text x="201.5" y="603" font-size="17" textLength="143" class="t1">Ingres, Dominique</text></g>
<g id="n-drolling"><circle class="h" cx="287" cy="957" r="12"/><text x="287.5" y="962" font-size="18" textLength="131" class="t1">Drolling, Martin</text></g>
<g id="n-picot"><circle class="h" cx="247" cy="892" r="17.5"/><text x="247.5" y="899" font-size="30" textLength="341" class="t1">Picot, François Édouard</text></g>
<g id="n-cabanel"><circle class="h" cx="208" cy="685" r="20"/><text x="208.5" y="693" font-size="28" textLength="251" class="t1">Cabanel, Alexandre</text></g>
<g id="caption">
<text class="cap" x="386" y="1408" font-size="19" textLength="274" lengthAdjust="spacingAndGlyphs"><tspan font-weight="bold">Fig. 1.</tspan> Réseau de filiations e</text>
<text class="cap" x="386" y="1428" font-size="15.5" textLength="274" lengthAdjust="spacingAndGlyphs">Source : <tspan style="font-variant:small-caps">Dupin de Beyssat</tspan> Claire (é</text>
<text class="cap" x="386" y="1447" font-size="15.5" textLength="274" lengthAdjust="spacingAndGlyphs">[en ligne : https://haissa.huma-num.</text>
<text class="cap" x="386" y="1465" font-size="15.5" textLength="274" lengthAdjust="spacingAndGlyphs">Visualisation générée avec le logici</text>
<text class="cap" x="386" y="1485" font-size="15.5" textLength="274" lengthAdjust="spacingAndGlyphs">En foncé : les maîtres. En clair : les é</text>
</g>
</svg>
